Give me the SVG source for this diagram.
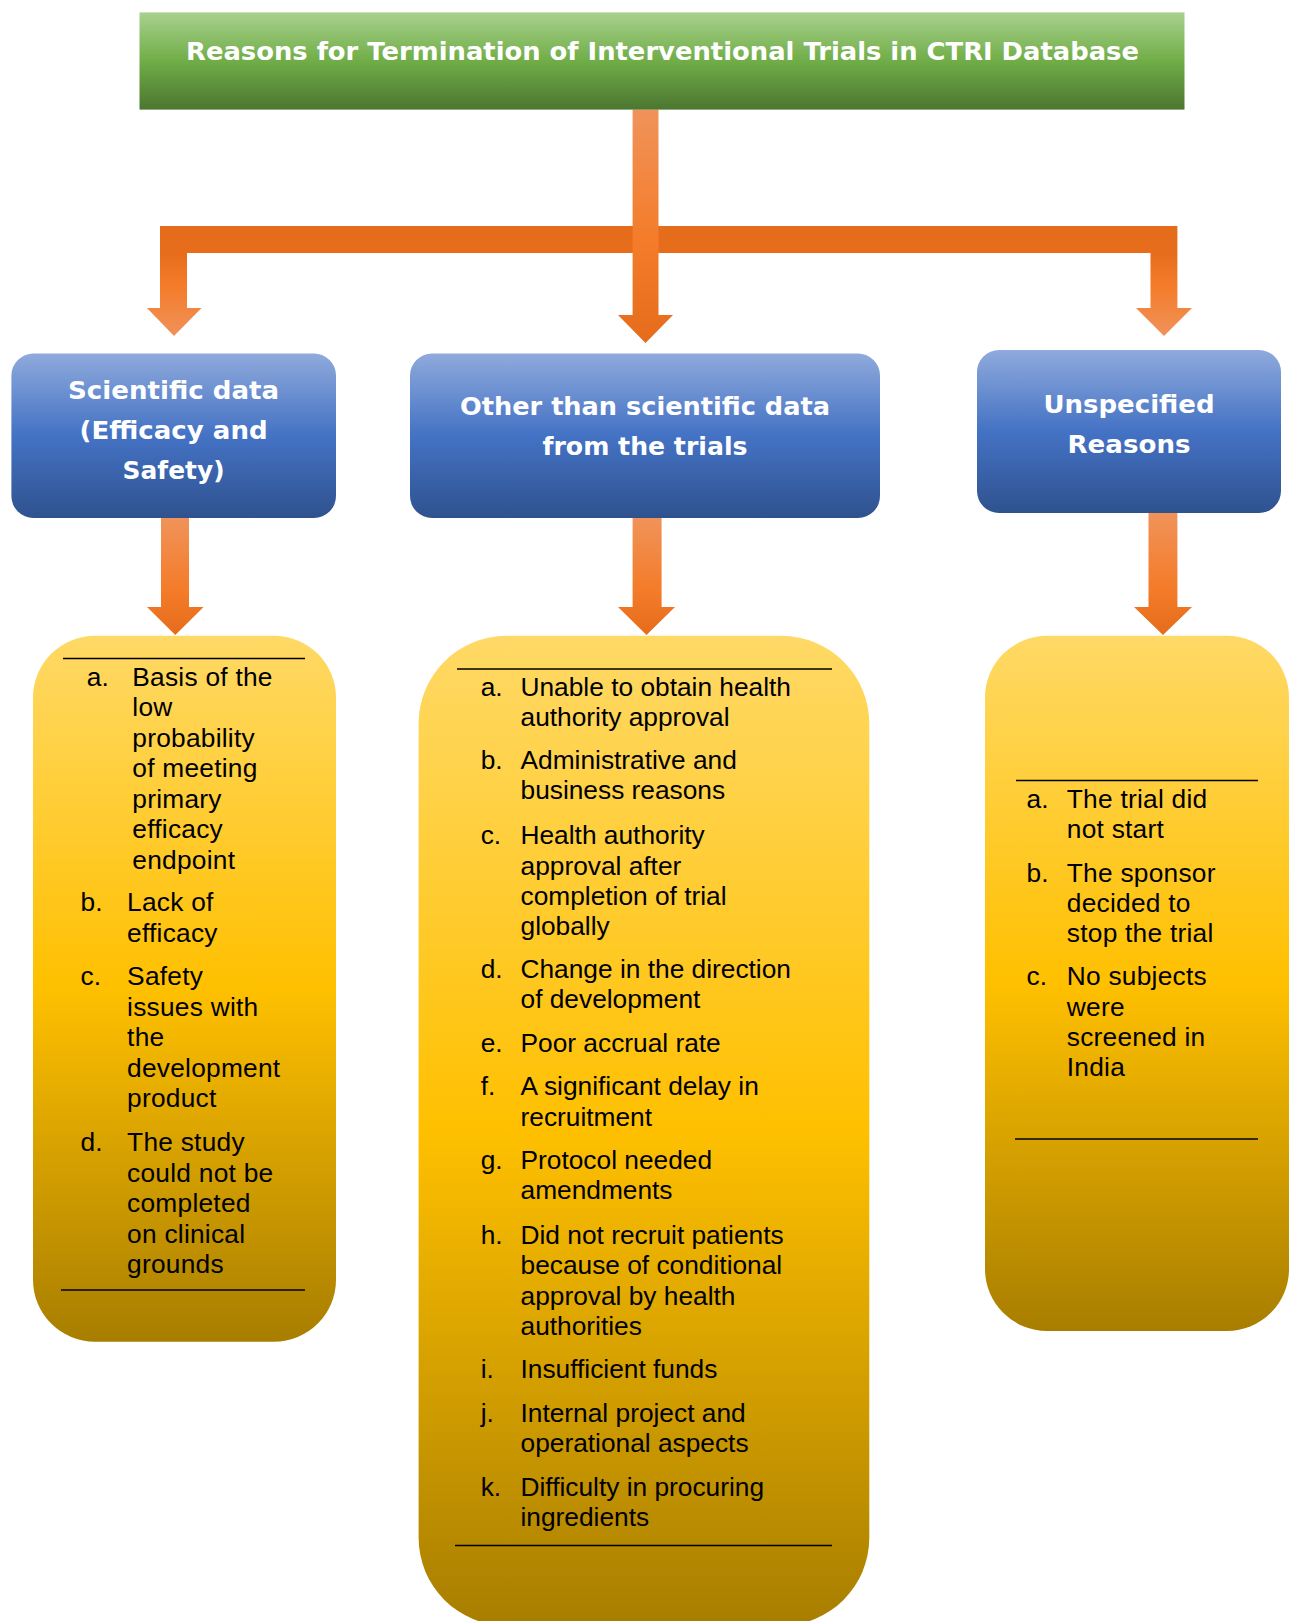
<svg xmlns="http://www.w3.org/2000/svg" width="1289" height="1621" viewBox="0 0 1289 1621">
<defs>
<linearGradient id="gGreen" x1="0" y1="0" x2="0" y2="1">
<stop offset="0" stop-color="#a9d18e"/>
<stop offset="0.5" stop-color="#70ad47"/>
<stop offset="1" stop-color="#4b7630"/>
</linearGradient>
<linearGradient id="gBlue" x1="0" y1="0" x2="0" y2="1">
<stop offset="0" stop-color="#8faadc"/>
<stop offset="0.5" stop-color="#4472c4"/>
<stop offset="1" stop-color="#2f528f"/>
</linearGradient>
<linearGradient id="gGold" x1="0" y1="0" x2="0" y2="1">
<stop offset="0" stop-color="#ffd966"/>
<stop offset="0.5" stop-color="#ffc000"/>
<stop offset="1" stop-color="#a87e00"/>
</linearGradient>
<linearGradient id="gBracket" gradientUnits="userSpaceOnUse" x1="0" y1="226" x2="0" y2="336">
<stop offset="0" stop-color="#e46c1a"/>
<stop offset="0.25" stop-color="#e76d1b"/>
<stop offset="0.55" stop-color="#f47c2a"/>
<stop offset="1" stop-color="#f0925a"/>
</linearGradient>
<linearGradient id="gCenter" gradientUnits="userSpaceOnUse" x1="0" y1="110" x2="0" y2="343">
<stop offset="0" stop-color="#f0935a"/>
<stop offset="0.55" stop-color="#f47c2a"/>
<stop offset="1" stop-color="#e46c1a"/>
</linearGradient>
<linearGradient id="gDown" x1="0" y1="0" x2="0" y2="1">
<stop offset="0" stop-color="#f0935a"/>
<stop offset="0.6" stop-color="#f47c2a"/>
<stop offset="1" stop-color="#e46c1a"/>
</linearGradient>
<style>
.hdr { font-family: "DejaVu Sans", Verdana, sans-serif; font-weight: bold; fill: #ffffff; font-size: 25.5px; text-anchor: middle; }
.ttl { font-family: "DejaVu Sans", Verdana, sans-serif; font-weight: bold; fill: #ffffff; font-size: 24.5px; text-anchor: middle; }
.item { font-family: "Liberation Sans", Arial, sans-serif; font-size: 26.3px; fill: #000000; }
.wide { letter-spacing: 0.25px; }
.rule { stroke: #000000; stroke-width: 1.3; fill: none; }
</style>
</defs>
<rect width="1289" height="1621" fill="#ffffff"/>

<g id="connectors">
<polygon fill="url(#gBracket)" points="160,226 1177.4,226 1177.4,308 1192,308 1164,336 1136,308 1150.5,308 1150.5,253 187,253 187,308 201.6,308 174,336 147,308 160,308"/>
<polygon fill="url(#gCenter)" points="632.6,109.6 658.5,109.6 658.5,315 673,315 645.5,343 618,315 632.6,315"/>
<polygon fill="url(#gDown)" points="161,518 189,518 189,607 203.6,607 175.3,635 147,607 161,607"/>
<polygon fill="url(#gDown)" points="632.6,518 661.6,518 661.6,607 675,607 646.5,635 618,607 632.6,607"/>
<polygon fill="url(#gDown)" points="1148.5,513 1177.4,513 1177.4,607 1192,607 1163,635 1134,607 1148.5,607"/>
</g>

<g id="title">
<rect x="139.5" y="12.4" width="1045" height="97.2" fill="url(#gGreen)"/>
<text class="ttl" x="662.5" y="60" textLength="953" lengthAdjust="spacingAndGlyphs">Reasons for Termination of Interventional Trials in CTRI Database</text>
</g>

<g id="cat-scientific">
<rect x="11.4" y="353.5" width="324.6" height="164.5" rx="22" fill="url(#gBlue)"/>
<text class="hdr" x="173.6" y="398.5" textLength="211" lengthAdjust="spacingAndGlyphs">Scientific data</text>
<text class="hdr" x="173.6" y="438.5" textLength="188" lengthAdjust="spacingAndGlyphs">(Efficacy and</text>
<text class="hdr" x="173.6" y="478.5" textLength="102" lengthAdjust="spacingAndGlyphs">Safety)</text>
</g>

<g id="cat-other">
<rect x="410" y="353.5" width="470" height="164.5" rx="22" fill="url(#gBlue)"/>
<text class="hdr" x="645" y="415" textLength="370" lengthAdjust="spacingAndGlyphs">Other than scientific data</text>
<text class="hdr" x="645" y="455" textLength="205" lengthAdjust="spacingAndGlyphs">from the trials</text>
</g>

<g id="cat-unspecified">
<rect x="977" y="350" width="304" height="163" rx="22" fill="url(#gBlue)"/>
<text class="hdr" x="1129" y="413" textLength="171" lengthAdjust="spacingAndGlyphs">Unspecified</text>
<text class="hdr" x="1129" y="453" textLength="123" lengthAdjust="spacingAndGlyphs">Reasons</text>
</g>

<g id="list-scientific">
<rect x="33" y="635.7" width="303" height="706" rx="62" fill="url(#gGold)"/>
<line class="rule" x1="63" y1="658.5" x2="305" y2="658.5"/>
<text class="item" x="86.8" y="685.5">a.</text>
<text class="item wide">
<tspan x="132.3" y="685.5">Basis of the</tspan>
<tspan x="132.3" y="716">low</tspan>
<tspan x="132.3" y="746.5">probability</tspan>
<tspan x="132.3" y="777">of meeting</tspan>
<tspan x="132.3" y="807.5">primary</tspan>
<tspan x="132.3" y="838">efficacy</tspan>
<tspan x="132.3" y="868.5">endpoint</tspan>
</text>
<text class="item" x="80.6" y="911">b.</text>
<text class="item wide">
<tspan x="127.1" y="911">Lack of</tspan>
<tspan x="127.1" y="942">efficacy</tspan>
</text>
<text class="item" x="80.6" y="985">c.</text>
<text class="item wide">
<tspan x="127.1" y="985">Safety</tspan>
<tspan x="127.1" y="1015.5">issues with</tspan>
<tspan x="127.1" y="1046">the</tspan>
<tspan x="127.1" y="1076.5">development</tspan>
<tspan x="127.1" y="1107">product</tspan>
</text>
<text class="item" x="80.6" y="1151">d.</text>
<text class="item wide">
<tspan x="127.1" y="1151">The study</tspan>
<tspan x="127.1" y="1181.5">could not be</tspan>
<tspan x="127.1" y="1212">completed</tspan>
<tspan x="127.1" y="1242.5">on clinical</tspan>
<tspan x="127.1" y="1273">grounds</tspan>
</text>
<line class="rule" x1="61" y1="1290" x2="305" y2="1290"/>
</g>

<g id="list-other">
<rect x="418.6" y="635.7" width="450.7" height="990" rx="88" fill="url(#gGold)"/>
<line class="rule" x1="457" y1="669" x2="832" y2="669"/>
<text class="item" x="480.7" y="696">a.</text>
<text class="item"><tspan x="520.5" y="696">Unable to obtain health</tspan><tspan x="520.5" y="726">authority approval</tspan></text>
<text class="item" x="480.7" y="769">b.</text>
<text class="item"><tspan x="520.5" y="769">Administrative and</tspan><tspan x="520.5" y="799">business reasons</tspan></text>
<text class="item" x="480.7" y="844">c.</text>
<text class="item"><tspan x="520.5" y="844">Health authority</tspan><tspan x="520.5" y="874.5">approval after</tspan><tspan x="520.5" y="905">completion of trial</tspan><tspan x="520.5" y="935">globally</tspan></text>
<text class="item" x="480.7" y="978">d.</text>
<text class="item"><tspan x="520.5" y="978">Change in the direction</tspan><tspan x="520.5" y="1008">of development</tspan></text>
<text class="item" x="480.7" y="1051.5">e.</text>
<text class="item" x="520.5" y="1051.5">Poor accrual rate</text>
<text class="item" x="480.7" y="1095">f.</text>
<text class="item"><tspan x="520.5" y="1095">A significant delay in</tspan><tspan x="520.5" y="1126">recruitment</tspan></text>
<text class="item" x="480.7" y="1169">g.</text>
<text class="item"><tspan x="520.5" y="1169">Protocol needed</tspan><tspan x="520.5" y="1199">amendments</tspan></text>
<text class="item" x="480.7" y="1244">h.</text>
<text class="item"><tspan x="520.5" y="1244">Did not recruit patients</tspan><tspan x="520.5" y="1274">because of conditional</tspan><tspan x="520.5" y="1305">approval by health</tspan><tspan x="520.5" y="1335">authorities</tspan></text>
<text class="item" x="480.7" y="1378">i.</text>
<text class="item" x="520.5" y="1378">Insufficient funds</text>
<text class="item" x="480.7" y="1421.5">j.</text>
<text class="item"><tspan x="520.5" y="1421.5">Internal project and</tspan><tspan x="520.5" y="1451.5">operational aspects</tspan></text>
<text class="item" x="480.7" y="1496">k.</text>
<text class="item"><tspan x="520.5" y="1496">Difficulty in procuring</tspan><tspan x="520.5" y="1526">ingredients</tspan></text>
<line class="rule" x1="455" y1="1545.5" x2="832" y2="1545.5"/>
</g>

<g id="list-unspecified">
<rect x="985" y="635.7" width="304" height="695.3" rx="62" fill="url(#gGold)"/>
<line class="rule" x1="1016" y1="780.5" x2="1258" y2="780.5"/>
<text class="item" x="1026.5" y="807.5">a.</text>
<text class="item wide"><tspan x="1066.8" y="807.5">The trial did</tspan><tspan x="1066.8" y="837.5">not start</tspan></text>
<text class="item" x="1026.5" y="882">b.</text>
<text class="item wide"><tspan x="1066.8" y="882">The sponsor</tspan><tspan x="1066.8" y="912">decided to</tspan><tspan x="1066.8" y="942">stop the trial</tspan></text>
<text class="item" x="1026.5" y="985">c.</text>
<text class="item wide"><tspan x="1066.8" y="985">No subjects</tspan><tspan x="1066.8" y="1016">were</tspan><tspan x="1066.8" y="1046">screened in</tspan><tspan x="1066.8" y="1076">India</tspan></text>
<line class="rule" x1="1015" y1="1139" x2="1258" y2="1139"/>
</g>
</svg>
